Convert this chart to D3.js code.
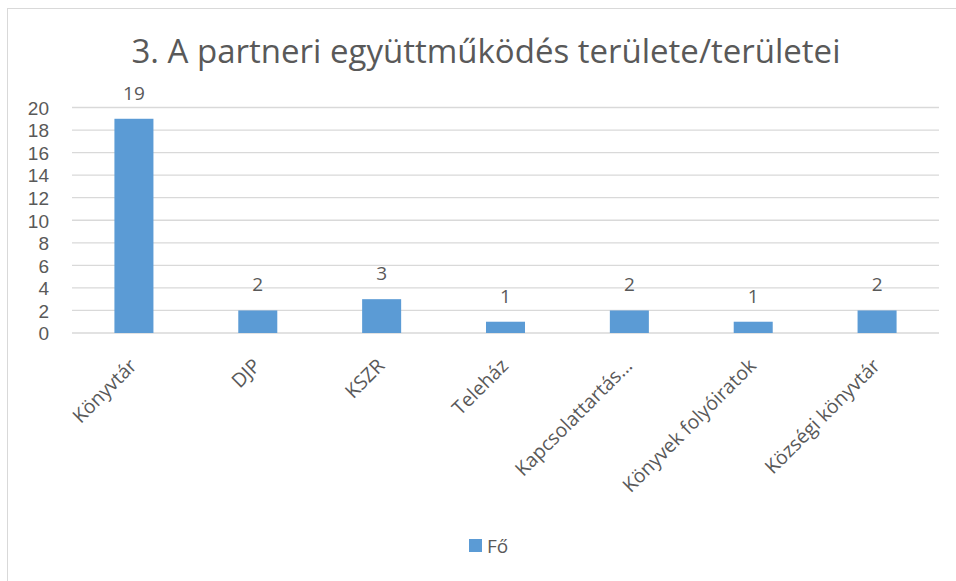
<!DOCTYPE html>
<html><head><meta charset="utf-8">
<script src="https://cdn.jsdelivr.net/npm/d3@7"></script>
<style>
body{margin:0;background:#fff;}
text{font-family:"Open Sans",sans-serif;fill:#595959;}
</style></head>
<body>
<svg id="c" width="956" height="581"></svg>
<script>
const categories = ["Könyvtár","DJP","KSZR","Teleház","Kapcsolattartás…","Könyvek folyóiratok","Községi könyvtár"];
const values = [19,2,3,1,2,1,2];
const yTicks = [0,2,4,6,8,10,12,14,16,18,20];
const seriesName = "Fő";
const title = "3. A partneri együttműködés területe/területei";

(function(){
const svg = d3.select("#c");
svg.append("rect").attr("x",7.5).attr("y",8.5).attr("width",960).attr("height",600)
  .attr("fill","#fff").attr("stroke","#d9d9d9").attr("stroke-width",1);

const pL=72,pR=939,pT=107.5,pB=333;
const x = d3.scaleBand().domain(categories).range([pL,pR]).paddingInner(0.685).paddingOuter(0.3425);
const y = d3.scaleLinear().domain([0,20]).range([pB,pT]);

svg.append("g").selectAll("line").data(yTicks).join("line")
  .attr("x1",pL).attr("x2",pR).attr("y1",d=>y(d)).attr("y2",d=>y(d))
  .attr("stroke","#d9d9d9").attr("stroke-width",1.3);

const yAxis = d3.axisLeft(y).tickValues(yTicks).tickSize(0).tickPadding(0);
const gy = svg.append("g").attr("transform",`translate(49,0)`).call(yAxis);
gy.select(".domain").remove();
gy.selectAll("text").style("font-size","19px").style("font-family","'Liberation Sans',Arial,sans-serif").attr("fill","#595959").attr("dy","0.36em");

svg.append("g").selectAll("rect").data(values).join("rect")
  .attr("x",(d,i)=>x(categories[i])).attr("width",x.bandwidth())
  .attr("y",d=>y(d)).attr("height",d=>y(0)-y(d)).attr("fill","#5b9bd5");

svg.append("g").selectAll("text").data(values).join("text")
  .attr("x",(d,i)=>x(categories[i])+x.bandwidth()/2).attr("y",d=>y(d)-19)
  .attr("text-anchor","middle").style("font-size","19px").text(d=>d);

const xAxis = d3.axisBottom(x).tickSize(0).tickPadding(0);
const gx = svg.append("g").attr("transform",`translate(0,${pB})`).call(xAxis);
gx.select(".domain").remove();
gx.selectAll("text").style("font-size","19.5px").style("font-family","'Open Sans',sans-serif").attr("fill","#595959")
  .attr("text-anchor","end").attr("dy",null).attr("y",0)
  .attr("transform","translate(4,34) rotate(-45)");

svg.append("text").attr("x",486).attr("y",63).attr("text-anchor","middle")
  .style("font-size","33px").text(title);

svg.append("rect").attr("x",469).attr("y",539).attr("width",13).attr("height",13).attr("fill","#5b9bd5");
svg.append("text").attr("x",487).attr("y",553).style("font-size","19px").text(seriesName);
})();
</script>
</body></html>
